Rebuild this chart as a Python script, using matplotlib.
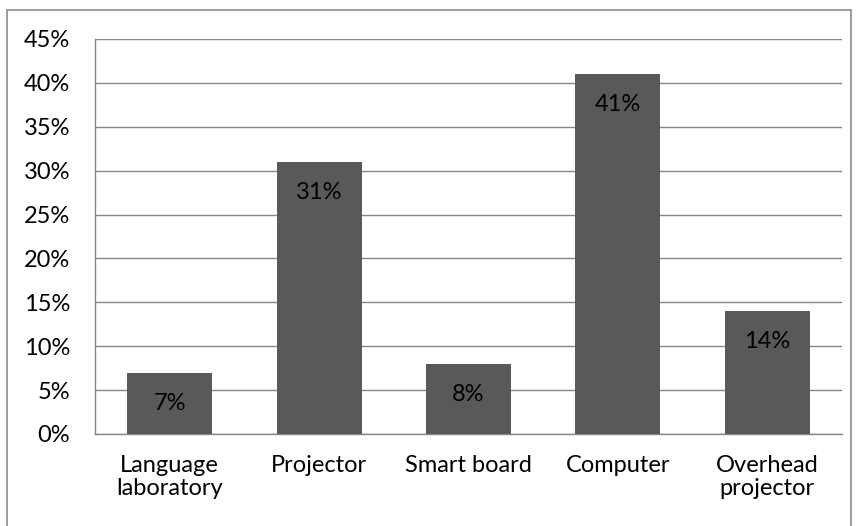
import matplotlib
matplotlib.use("Agg")
import matplotlib.pyplot as plt
from matplotlib.patches import Rectangle
from matplotlib.ticker import FuncFormatter, MultipleLocator

categories = ["Language\nlaboratory", "Projector", "Smart board", "Computer", "Overhead\nprojector"]
values = [7, 31, 8, 41, 14]
labels = ["7%", "31%", "8%", "41%", "14%"]

plt.rcParams['font.family'] = ['Lato', 'DejaVu Sans']

W, H = 858, 526
fig = plt.figure(figsize=(W/100, H/100), dpi=100)
fig.patch.set_facecolor('white')

# outer chart border
fig.patches.append(Rectangle((7/W, -0.02), (851-7)/W, 1 - 10/H + 0.02,
                             transform=fig.transFigure, fill=False,
                             edgecolor='#8c8c8c', linewidth=1.2))

ax = fig.add_axes([95/W, 1 - 434/H, (842-95)/W, (434-39)/H])
x = range(len(categories))
bars = ax.bar(x, values, width=0.57, color='#595959', zorder=3)
ax.set_xlim(-0.5, len(categories) - 0.5)
ax.set_ylim(0, 45)
ax.yaxis.set_major_locator(MultipleLocator(5))
ax.yaxis.set_major_formatter(FuncFormatter(lambda v, p: f"{int(v)}%"))
ax.grid(axis='y', color='#868686', linewidth=1.0, zorder=0)
ax.set_xticks(list(x))
ax.set_xticklabels(categories, fontsize=17, linespacing=1.15)
ax.tick_params(axis='both', length=0, labelsize=17, colors='black')
ax.tick_params(axis='x', pad=15)
ax.tick_params(axis='y', pad=18)
for lab in ax.get_yticklabels():
    lab.set_horizontalalignment('right')
for s in ['top', 'right']:
    ax.spines[s].set_visible(False)
for s in ['left', 'bottom']:
    ax.spines[s].set_color('#868686')
    ax.spines[s].set_linewidth(1.0)

for b, lab in zip(bars, labels):
    ax.annotate(lab, (b.get_x() + b.get_width()/2, b.get_height()),
                xytext=(0, -22), textcoords='offset points',
                ha='center', va='center', fontsize=17, color='black', zorder=4)

fig.savefig("out.png", dpi=100)
